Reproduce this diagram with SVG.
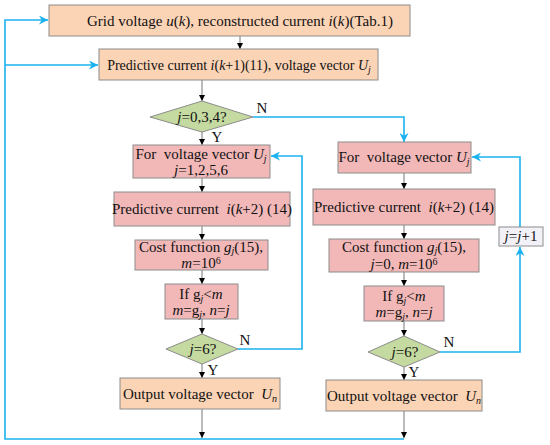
<svg xmlns="http://www.w3.org/2000/svg" width="550" height="445" viewBox="0 0 550 445">
<defs>
<marker id="ab" viewBox="0 0 10 10" refX="10" refY="5" markerWidth="6" markerHeight="6" orient="auto" markerUnits="userSpaceOnUse"><path d="M0,0 L10,5 L0,10 z" fill="#000"/></marker>
<marker id="ablue" viewBox="0 0 10 10" refX="10" refY="5" markerWidth="9" markerHeight="9" orient="auto" markerUnits="userSpaceOnUse"><path d="M0,0 L10,5 L0,10 L3,5 z" fill="#1ab2ef"/></marker>
</defs>
<style>
text{font-family:"Liberation Serif","Times New Roman",serif;font-size:15px;fill:#111;text-anchor:middle}
.i{font-style:italic}
.s{font-size:10px}
.or{fill:#fbd3b5;stroke:#8c8c8c;stroke-width:1}
.pk{fill:#f2b8b8;stroke:#8c8c8c;stroke-width:1}
.gr{fill:#c5daa0;stroke:#8c8c8c;stroke-width:1}
.lv{fill:#f3f1f8;stroke:#8c8c8c;stroke-width:1}
.k{stroke:#777;stroke-width:1;fill:none;marker-end:url(#ab)}
.ba{stroke:#1ab2ef;stroke-width:1.6;fill:none;marker-end:url(#ablue)}
</style>

<g id="connectors">
<line class="k" x1="240" y1="36" x2="240" y2="49"/>
<line class="k" x1="202" y1="80" x2="202" y2="101"/>
<line class="k" x1="202" y1="132" x2="202" y2="145"/>
<line class="k" x1="202" y1="178" x2="202" y2="192"/>
<line class="k" x1="202" y1="226" x2="202" y2="240"/>
<line class="k" x1="202" y1="270" x2="202" y2="284"/>
<line class="k" x1="202" y1="319" x2="202" y2="334"/>
<line class="k" x1="202" y1="364" x2="202" y2="378"/>
<line class="k" x1="202" y1="409" x2="202" y2="438"/>
<line class="k" x1="404" y1="173" x2="404" y2="189"/>
<line class="k" x1="404" y1="225" x2="404" y2="239"/>
<line class="k" x1="404" y1="272" x2="404" y2="286"/>
<line class="k" x1="404" y1="321" x2="404" y2="336"/>
<line class="k" x1="404" y1="367" x2="404" y2="380"/>
<line class="k" x1="404" y1="411" x2="404" y2="438"/>
<polyline class="ba" points="253,117 404,117 404,142"/>
<polyline class="ba" points="238,349 302,349 302,156 271,156"/>
<polyline class="ba" points="440,352 520,352 520,247"/>
<polyline class="ba" points="520,227 520,157 472,157"/>
<polyline class="ba" points="404,439 5,439 5,20 48,20"/>
<polyline class="ba" points="5,65 98,65"/>
<text x="262" y="113">N</text>
<text x="217" y="142">Y</text>
<text x="245" y="345">N</text>
<text x="213" y="375">Y</text>
<text x="449" y="347">N</text>
<text x="414" y="377">Y</text>
</g>

<g id="n1"><rect class="or" x="49" y="5" width="361" height="31"/>
<text x="240" y="26">Grid voltage <tspan class="i">u</tspan>(<tspan class="i">k</tspan>), reconstructed current <tspan class="i">i</tspan>(<tspan class="i">k</tspan>)(Tab.1)</text></g>

<g id="n2"><rect class="or" x="99" y="49" width="279" height="31"/>
<text x="239" y="70" style="font-size:14px">Predictive current <tspan class="i">i</tspan>(<tspan class="i">k</tspan>+1)(11), voltage vector <tspan class="i">U</tspan><tspan class="i s" dy="3">j</tspan></text></g>

<g id="d1"><polygon class="gr" points="150,117 202,101 253,117 202,132"/>
<text x="202" y="122"><tspan class="i">j</tspan>=0,3,4?</text></g>

<g id="l1"><rect class="pk" x="133" y="145" width="137" height="33"/>
<text x="201" y="159">For&#160; voltage vector <tspan class="i">U</tspan><tspan class="i s" dy="3">j</tspan></text>
<text x="201" y="175"><tspan class="i">j</tspan>=1,2,5,6</text></g>

<g id="l2"><rect class="pk" x="114" y="192" width="176" height="34"/>
<text x="202" y="214">Predictive current&#160; <tspan class="i">i</tspan>(<tspan class="i">k</tspan>+2) (14)</text></g>

<g id="l3"><rect class="pk" x="135" y="240" width="133" height="30"/>
<text x="201" y="252">Cost function <tspan class="i">g</tspan><tspan class="i s" dy="2">j</tspan><tspan dy="-2">(15),</tspan></text>
<text x="201" y="268"><tspan class="i">m</tspan>=10<tspan class="s" dy="-4">6</tspan></text></g>

<g id="l4"><rect class="pk" x="165" y="284" width="73" height="35"/>
<text x="201" y="299">If g<tspan class="i s" dy="3">j</tspan><tspan dy="-3">&lt;</tspan><tspan class="i">m</tspan></text>
<text x="201" y="315"><tspan class="i">m</tspan>=g<tspan class="i s" dy="3">j</tspan><tspan dy="-3">, </tspan><tspan class="i">n</tspan>=<tspan class="i">j</tspan></text></g>

<g id="d2"><polygon class="gr" points="166,349 202,334 238,349 202,364"/>
<text x="203" y="354"><tspan class="i">j</tspan>=6?</text></g>

<g id="l5"><rect class="or" x="120" y="378" width="160" height="31"/>
<text x="200" y="399">Output voltage vector&#160; <tspan class="i">U</tspan><tspan class="i s" dy="3">n</tspan></text></g>

<g id="r1"><rect class="pk" x="338" y="142" width="133" height="31"/>
<text x="404" y="162">For&#160; voltage vector <tspan class="i">U</tspan><tspan class="i s" dy="3">j</tspan></text></g>

<g id="r2"><rect class="pk" x="313" y="189" width="182" height="36"/>
<text x="404" y="212">Predictive current&#160; <tspan class="i">i</tspan>(<tspan class="i">k</tspan>+2) (14)</text></g>

<g id="r3"><rect class="pk" x="329" y="239" width="150" height="33"/>
<text x="404" y="252">Cost function <tspan class="i">g</tspan><tspan class="i s" dy="2">j</tspan><tspan dy="-2">(15),</tspan></text>
<text x="404" y="269"><tspan class="i">j</tspan>=0, <tspan class="i">m</tspan>=10<tspan class="s" dy="-4">6</tspan></text></g>

<g id="r4"><rect class="pk" x="364" y="286" width="80" height="35"/>
<text x="404" y="301">If g<tspan class="i s" dy="3">j</tspan><tspan dy="-3">&lt;</tspan><tspan class="i">m</tspan></text>
<text x="404" y="317"><tspan class="i">m</tspan>=g<tspan class="i s" dy="3">j</tspan><tspan dy="-3">, </tspan><tspan class="i">n</tspan>=<tspan class="i">j</tspan></text></g>

<g id="d3"><polygon class="gr" points="368,352 404,336 440,352 404,367"/>
<text x="405" y="357"><tspan class="i">j</tspan>=6?</text></g>

<g id="r5"><rect class="or" x="326" y="380" width="156" height="31"/>
<text x="404" y="401">Output voltage vector&#160; <tspan class="i">U</tspan><tspan class="i s" dy="3">n</tspan></text></g>

<g id="inc"><rect class="lv" x="499" y="227" width="44" height="19"/>
<text x="521" y="241"><tspan class="i">j</tspan>=<tspan class="i">j</tspan>+1</text></g>
</svg>
